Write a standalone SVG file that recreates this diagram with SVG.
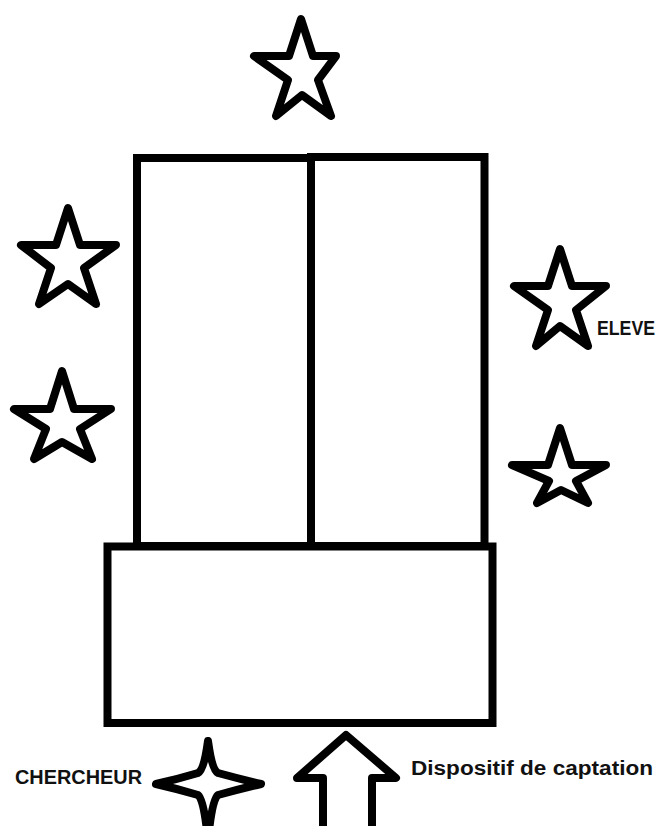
<svg xmlns="http://www.w3.org/2000/svg" width="661" height="826" viewBox="0 0 661 826">
<style>
.shape{fill:#fff;stroke:#000;stroke-width:8;stroke-linejoin:round}
.box{fill:#fff;stroke:#000;stroke-width:8;stroke-linejoin:miter}
.lbl{font-family:"Liberation Sans",Arial,sans-serif;font-weight:bold;font-size:20px;fill:#111}
</style>
<rect width="661" height="826" fill="#fff"/>
<g id="building">
<rect class="box" x="137" y="158" width="174" height="388"/>
<rect class="box" x="311" y="157" width="173.5" height="389"/>
<rect class="box" x="107.5" y="546.5" width="385" height="176.5"/>
</g>
<g id="star-top"><polygon class="shape" points="301,19 313,56 336,56 318,80 331,116 302,95 276,116 288,80 254,56 289,56"/></g>
<g id="star-left-1"><polygon class="shape" points="68,208 80,245 116,245 84,268 96,304 68,284 39,304 51,268 21,245 56,245"/></g>
<g id="star-left-2"><polygon class="shape" points="62,371 74,409 111,409 80,429 92,459 62,442 34,459 46,429 14,409 50,409"/></g>
<g id="star-right-1"><polygon class="shape" points="560,249 572,286 606,286 576,310 588,346 560,326 536,346 548,310 514,286 548,286"/></g>
<g id="star-right-2"><polygon class="shape" points="560,428 572,465 606,465 576,481 588,503 561,490 537,503 549,481 512,465 548,465"/></g>
<g id="eleve"><text class="lbl" x="597" y="335" textLength="58" lengthAdjust="spacingAndGlyphs">ELEVE</text></g>
<g id="chercheur">
<path class="shape" d="M208,741 Q212,770 218,773 Q240,779 261,784 Q240,789 218,795 Q212,800 208,840 Q204,800 198,795 Q178,789 156,784 Q178,779 198,773 Q204,770 208,741 Z"/>
<text class="lbl" x="15" y="784" textLength="127" lengthAdjust="spacingAndGlyphs">CHERCHEUR</text>
</g>
<g id="dispositif">
<polygon class="shape" points="346,735 396,778 372,778 372,830 323,830 323,778 297,778"/>
<text class="lbl" x="411" y="775" textLength="242" lengthAdjust="spacingAndGlyphs">Dispositif de captation</text>
</g>
</svg>
